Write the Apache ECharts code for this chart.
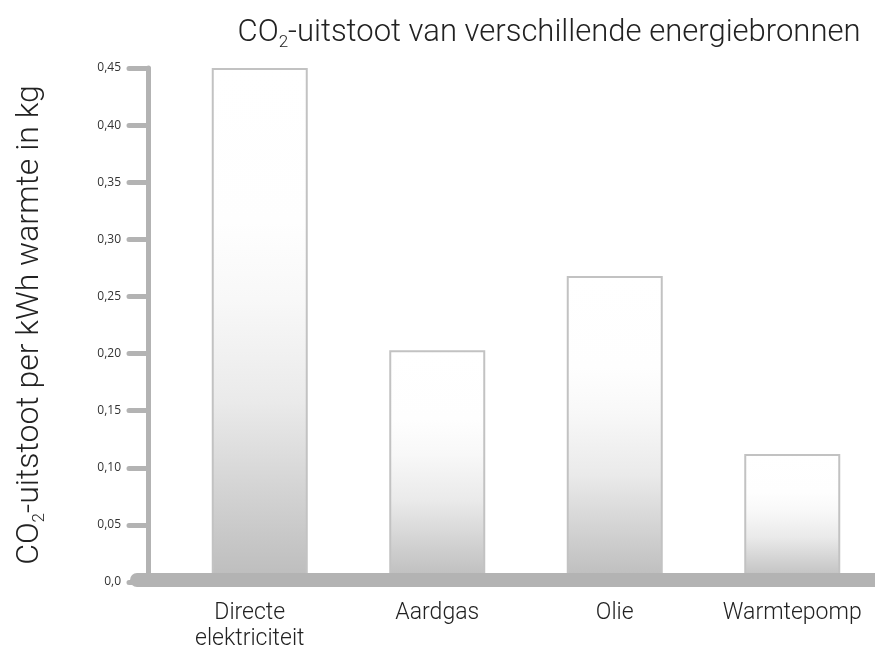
<!DOCTYPE html>
<html>
<head>
<meta charset="utf-8">
<script src="https://cdn.jsdelivr.net/npm/echarts@6/dist/echarts.min.js"></script>
<style>html,body{margin:0;padding:0;background:#fff;}#c{width:875px;height:655px;}</style>
</head>
<body>
<div id="c"></div>
<script>
const categories = ['Directe\nelektriciteit', 'Aardgas', 'Olie', 'Warmtepomp'];
const values = [0.45, 0.203, 0.268, 0.112];
const yTicks = [0, 0.05, 0.10, 0.15, 0.20, 0.25, 0.30, 0.35, 0.40, 0.45];
const titleText = '{n|CO}{s|2}{n|-uitstoot van verschillende energiebronnen}';
const yName = '{n|CO}{s|2}{n|-uitstoot per kWh warmte in kg}';

const chart = echarts.init(document.getElementById('c'), null, {renderer: 'canvas'});
const gray = '#b3b3b3';
const fontFam = 'Roboto, "Liberation Sans", sans-serif';

const catData = categories.map(function (c, i) {
  return i === 0 ? {value: c, textStyle: {padding: [0, 20, 0, 0]}} : c;
});

chart.setOption({
  backgroundColor: '#ffffff',
  animation: false,
  title: {
    text: titleText,
    left: 544, top: 10, textAlign: 'center',
    textStyle: {
      rich: {
        n: {fontFamily: fontFam, fontWeight: 300, fontSize: 31, color: '#222', lineHeight: 36, verticalAlign: 'middle'},
        s: {fontFamily: fontFam, fontWeight: 300, fontSize: 17, color: '#222', lineHeight: 36, verticalAlign: 'bottom', padding: [18, 0, 0, 0]}
      }
    }
  },
  grid: [
    {left: 171, width: 710, top: 68, bottom: 73, containLabel: false, outerBoundsMode: 'none'},
    {left: 137, right: 0, top: 68, bottom: 75, containLabel: false, outerBoundsMode: 'none'}
  ],
  xAxis: [
    {
      type: 'category', gridIndex: 0, data: catData,
      axisLine: {show: false}, axisTick: {show: false},
      axisLabel: {fontFamily: fontFam, fontWeight: 300, fontSize: 23, color: '#222', lineHeight: 26, margin: 18, interval: 0}
    },
    {
      type: 'value', gridIndex: 1, min: 0, max: 1, z: 10,
      axisLine: {show: true, onZero: false, lineStyle: {color: gray, width: 14, cap: 'round'}},
      axisTick: {show: false}, axisLabel: {show: false}, splitLine: {show: false}
    }
  ],
  yAxis: [
    {
      type: 'value', gridIndex: 0, min: 0, max: 0.45, interval: 0.05, offset: 23,
      name: yName, nameLocation: 'middle', nameGap: 100, nameRotate: 90,
      nameTextStyle: {
        rich: {
          n: {fontFamily: fontFam, fontWeight: 300, fontSize: 32, color: '#222', lineHeight: 36, verticalAlign: 'middle'},
          s: {fontFamily: fontFam, fontWeight: 300, fontSize: 17, color: '#222', lineHeight: 36, verticalAlign: 'bottom', padding: [18, 0, 0, 0]}
        }
      },
      axisLine: {show: true, lineStyle: {color: gray, width: 5}},
      axisTick: {show: true, inside: false, length: 19, lineStyle: {color: gray, width: 5, cap: 'round'}},
      axisLabel: {
        fontFamily: '"Open Sans", sans-serif', fontSize: 12, color: '#333', margin: 27,
        formatter: function (v) { return v === 0 ? '0,0' : v.toFixed(2).replace('.', ','); }
      },
      splitLine: {show: false}
    },
    {type: 'value', gridIndex: 1, min: 0, max: 1, show: false}
  ],
  series: [{
    type: 'bar', xAxisIndex: 0, yAxisIndex: 0,
    data: values, barWidth: 96,
    itemStyle: {
      borderColor: '#c2c2c2', borderWidth: 2,
      color: new echarts.graphic.LinearGradient(0, 0, 0, 1, [
        {offset: 0, color: '#ffffff'},
        {offset: 0.3, color: '#fefefe'},
        {offset: 0.45, color: '#f8f8f8'},
        {offset: 0.65, color: '#eaeaea'},
        {offset: 1, color: '#bcbcbc'}
      ])
    }
  }]
});
</script>
</body>
</html>
